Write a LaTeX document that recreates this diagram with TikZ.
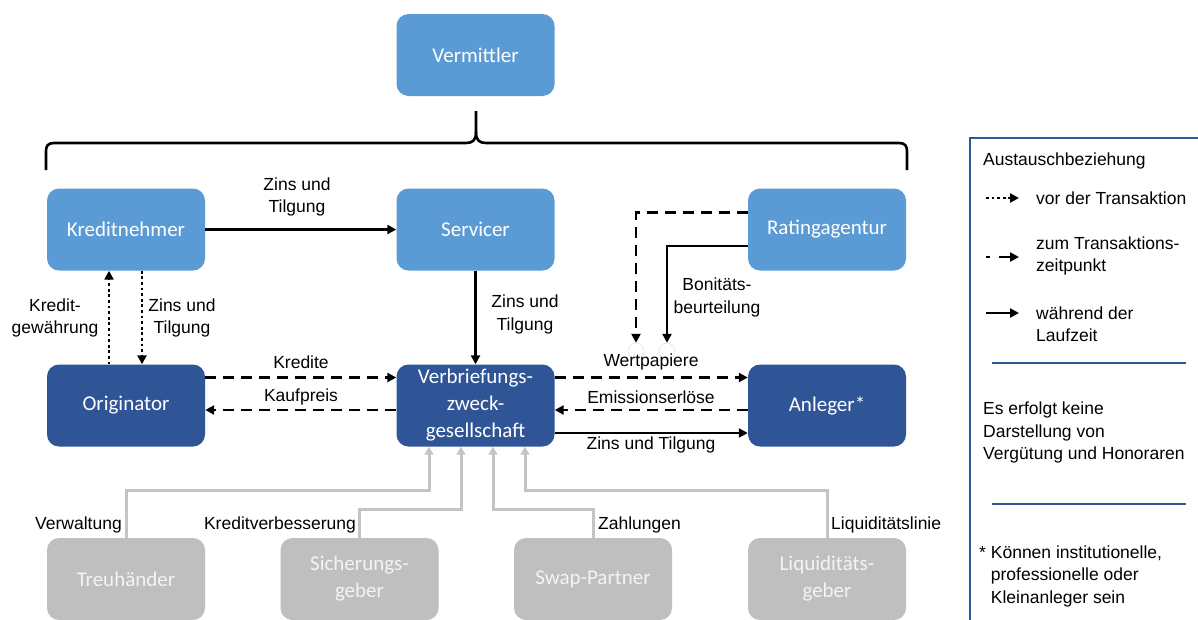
\documentclass[tikz,border=0pt]{standalone}
\usepackage{fontspec}
\setmainfont{Liberation Sans}
\newfontfamily\boxfont{Carlito}
\usetikzlibrary{arrows.meta,calc}
\definecolor{lblue}{HTML}{5B9BD5}
\definecolor{dblue}{HTML}{2F5597}
\definecolor{gbox}{HTML}{BFBFBF}
\definecolor{gline}{HTML}{C4C4C4}
\definecolor{gtext}{HTML}{F4F4F4}
\definecolor{legblue}{HTML}{2F5597}
\tikzset{
  box/.style={rectangle, rounded corners=12pt, minimum width=158pt, minimum height=82pt,
    inner sep=0pt, text=white, align=center, font=\boxfont\fontsize{21}{27}\selectfont},
  lb/.style={box, fill=lblue},
  db/.style={box, fill=dblue},
  gb/.style={box, fill=gbox, text=gtext},
  lbl/.style={inner sep=0pt, align=center, font=\fontsize{17.5}{22.5}\selectfont},
  arr/.style={line width=2.5pt, -{Triangle[length=9pt,width=9pt]}},
  solidarr/.style={arr},
  dasharr/.style={arr, dash pattern=on 11pt off 7pt},
  dotarr/.style={arr, line width=2.8pt, dash pattern=on 2.8pt off 2.8pt},
  legdash/.style={arr, dash pattern=on 4pt off 9pt on 40pt off 0pt},
  grayarr/.style={line width=3pt, draw=gline, -{Triangle[length=8pt,width=9pt]}},
  pin/.style={circle, draw=black!15, line width=0.4pt, minimum size=16pt, inner sep=0pt},
  sep/.style={line width=2.2pt, draw=legblue},
}
\begin{document}
\begin{tikzpicture}[x=1pt,y=-1pt]
\useasboundingbox (0,0) rectangle (1198,619);
\clip (0,0) rectangle (1198,619);
\fill[white] (0,0) rectangle (1198,619);

% boxes
\node[lb] (verm) at (475.5,55) {Vermittler};
\node[lb] (kn) at (126,229.5) {Kreditnehmer};
\node[lb] (serv) at (475.5,229.5) {Servicer};
\node[lb] (rat) at (827,229.5) {Ratingagentur};
\node[db] (orig) at (126,405.5) {Originator};
\node[db] (vz) at (475.5,405.5) {Verbriefungs-\\zweck-\\gesellschaft};
\node[db] (anl) at (827,405.5) {Anleger*};
\node[gb] (treu) at (126,579) {Treuhänder};
\node[gb] (sich) at (359.5,579) {Sicherungs-\\geber};
\node[gb] (swap) at (593,579) {Swap-Partner};
\node[gb] (liq) at (827,579) {Liquiditäts-\\geber};

% brace
\draw[line width=2.6pt, line join=round]
  (46,170) -- (46,151) .. controls (46,146) and (48,143) .. (54,143) -- (466,143)
  .. controls (473,143) and (476,140) .. (476,132) -- (476,111);
\draw[line width=2.6pt, line join=round]
  (476,132) .. controls (476,140) and (479,143) .. (486,143) -- (899,143)
  .. controls (905,143) and (907,146) .. (907,151) -- (907,170);

% connectors
\draw[solidarr] (kn.east) -- (serv.west);
\draw[dotarr] ($(orig.north)+(-17,0)$) -- ($(kn.south)+(-17,0)$);
\draw[dotarr] ($(kn.south)+(16,0)$) -- ($(orig.north)+(16,0)$);
\draw[solidarr] (serv.south) -- (vz.north);
\draw[dasharr] ($(orig.east)+(0,-28)$) -- ($(vz.west)+(0,-28)$);
\draw[dasharr] ($(vz.west)+(0,4.5)$) -- ($(orig.east)+(0,4.5)$);
\draw[dasharr] ($(vz.east)+(0,-28)$) -- ($(anl.west)+(0,-28)$);
\draw[dasharr] ($(anl.west)+(0,4.5)$) -- ($(vz.east)+(0,4.5)$);
\draw[solidarr] ($(vz.east)+(0,27.5)$) -- ($(anl.west)+(0,27.5)$);

\node[pin] (pa) at (636,351) {};
\node[pin] (pb) at (667,351) {};
\draw[dasharr] ($(rat.west)+(0,-17)$) -| (pa.north);
\draw[solidarr] ($(rat.west)+(0,16.5)$) -| (pb.north);

\draw[grayarr] (treu.north) |- ($(vz.south)+(-46.5,44)$) -- ($(vz.south)+(-46.5,0)$);
\draw[grayarr] (sich.north) |- ($(vz.south)+(-14.5,62.5)$) -- ($(vz.south)+(-14.5,0)$);
\draw[grayarr] (swap.north) |- ($(vz.south)+(17.5,62.5)$) -- ($(vz.south)+(17.5,0)$);
\draw[grayarr] (liq.north) |- ($(vz.south)+(49.5,44)$) -- ($(vz.south)+(49.5,0)$);

% labels
\node[lbl] (l1) at (297,197) {Zins und\\Tilgung};
\node[lbl] (l2) at (55,318) {Kredit-\\gewährung};
\node[lbl] (l3) at (182,318) {Zins und\\Tilgung};
\node[lbl] (l4) at (525,314.5) {Zins und\\Tilgung};
\node[lbl] (l5) at (717,297.5) {Bonitäts-\\beurteilung};
\node[lbl] (l6) at (301,362) {Kredite};
\node[lbl] (l7) at (301,397) {Kaufpreis};
\node[lbl] (l8) at (651,362) {Wertpapiere};
\node[lbl] (l9) at (651,397) {Emissionserlöse};
\node[lbl] (l10) at (651,445) {Zins und Tilgung};
\node[lbl, anchor=east] (l11) at (122,525) {Verwaltung};
\node[lbl, anchor=east] (l12) at (356,525) {Kreditverbesserung};
\node[lbl, anchor=west] (l13) at (598,525) {Zahlungen};
\node[lbl, anchor=west] (l14) at (831,525) {Liquiditätslinie};

% legend
\draw[line width=2.8pt, draw=legblue] (970,138) rectangle (1230,660);
\node[lbl, anchor=west] (lg0) at (983,161) {Austauschbeziehung};
\coordinate (d1) at (986,198);
\coordinate (d2) at (1019,198);
\draw[dotarr] (d1) -- (d2);
\node[lbl, anchor=west] (lg1) at (1036,198) {vor der Transaktion};
\coordinate (e1) at (986,257);
\coordinate (e2) at (1019,257);
\draw[legdash] (e1) -- (e2);
\node[lbl, anchor=west, align=left] (lg2) at (1036,256) {zum Transaktions-\\zeitpunkt};
\coordinate (f1) at (986,313);
\coordinate (f2) at (1019,313);
\draw[solidarr] (f1) -- (f2);
\node[lbl, anchor=west, align=left] (lg3) at (1036,324) {während der\\Laufzeit};
\coordinate (s1) at (992,363);
\coordinate (s2) at (1186,363);
\draw[sep] (s1) -- (s2);
\node[lbl, anchor=west, align=left] (lg4) at (983,432.5) {Es erfolgt keine\\Darstellung von\\Vergütung und Honoraren};
\coordinate (s3) at (992,504);
\coordinate (s4) at (1186,504);
\draw[sep] (s3) -- (s4);
\node[lbl, anchor=west, align=left] (lg5) at (979,576) {*~Können institutionelle,\\\phantom{*~}professionelle oder\\\phantom{*~}Kleinanleger sein};
\end{tikzpicture}
\end{document}
